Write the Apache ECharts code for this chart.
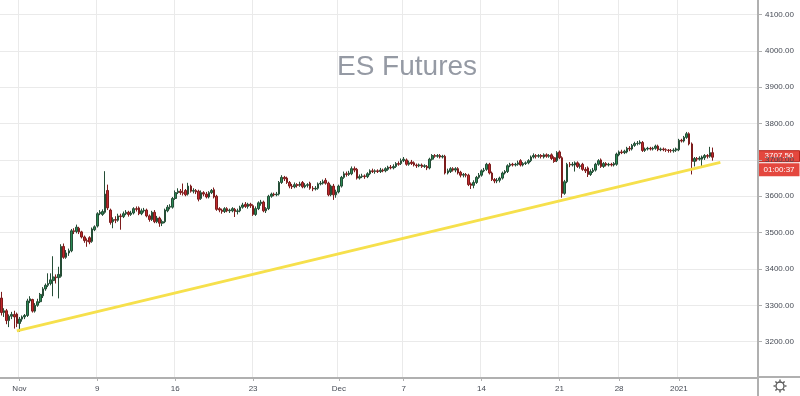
<!DOCTYPE html>
<html><head><meta charset="utf-8">
<script src="https://cdn.jsdelivr.net/npm/echarts@6/dist/echarts.min.js"></script>
<style>html,body{margin:0;padding:0;background:#fff}#c{width:800px;height:396px}</style>
</head><body><div id="c"></div>
<script>
// ---------------- data ----------------
const chartTitle = 'ES Futures';
const barSlots = 292;                       // bar slots on the time scale (last ones are empty future space)
const tickLabels = ['Nov','9','16','23','Dec','7','14','21','28','2021'];
const tickBars   = [7, 37, 67, 97, 130, 155, 185, 215, 238, 261];   // bar index where each date label sits
const priceMin = 3100, priceMax = 4140, priceStep = 100;
// candles: [open, close, low, high]
const candles = [
[3320,3280,3272,3337],[3280,3285,3268,3292],[3285,3258,3248,3290],[3258,3270,3240,3275],[3270,3275,3262,3282],
[3275,3268,3236,3285],[3276,3250,3240,3280],[3250,3262,3227,3268],[3262,3268,3255,3272],[3268,3272,3262,3276],
[3272,3312,3268,3318],[3312,3318,3306,3325],[3316,3284,3280,3318],[3284,3300,3280,3306],[3300,3310,3296,3318],
[3310,3330,3306,3334],[3326,3345,3320,3350],[3345,3355,3340,3360],[3355,3360,3350,3388],[3360,3370,3355,3388],
[3368,3378,3325,3435],[3378,3376,3360,3385],[3376,3385,3319,3406],[3380,3462,3376,3468],[3462,3432,3428,3470],
[3432,3444,3428,3452],[3444,3450,3436,3456],[3450,3505,3446,3510],[3505,3503,3496,3512],[3503,3515,3498,3522],
[3512,3502,3496,3516],[3502,3488,3484,3505],[3488,3478,3472,3492],[3478,3476,3461,3484],[3486,3474,3468,3490],
[3476,3510,3472,3514],[3508,3516,3504,3520],[3518,3552,3514,3556],[3552,3556,3548,3562],[3550,3558,3546,3564],
[3556,3606,3552,3669],[3616,3568,3562,3632],[3562,3528,3522,3566],[3530,3536,3512,3542],[3536,3534,3526,3545],
[3534,3546,3530,3552],[3546,3544,3508,3552],[3544,3552,3540,3558],[3552,3556,3548,3562],[3556,3550,3544,3560],
[3550,3554,3546,3560],[3554,3566,3550,3570],[3566,3564,3558,3572],[3568,3552,3548,3572],[3552,3560,3548,3566],
[3560,3562,3555,3568],[3562,3546,3542,3566],[3546,3536,3530,3550],[3536,3556,3532,3560],[3556,3530,3526,3562],
[3530,3540,3526,3546],[3540,3526,3516,3544],[3526,3530,3518,3536],[3530,3562,3526,3566],[3560,3570,3556,3576],
[3570,3572,3564,3578],[3570,3594,3566,3598],[3594,3610,3590,3616],[3610,3614,3606,3622],[3614,3610,3604,3620],
[3610,3608,3602,3635],[3616,3604,3600,3620],[3606,3628,3602,3637],[3628,3614,3610,3632],[3614,3616,3608,3622],
[3616,3612,3606,3620],[3614,3592,3586,3618],[3594,3610,3590,3616],[3610,3606,3600,3614],[3606,3598,3594,3612],
[3598,3610,3594,3614],[3610,3616,3606,3620],[3618,3598,3594,3624],[3600,3564,3560,3604],[3566,3562,3556,3570],
[3562,3558,3552,3566],[3558,3566,3554,3570],[3566,3560,3556,3570],[3560,3562,3554,3566],[3560,3566,3556,3570],
[3564,3558,3543,3568],[3558,3560,3550,3566],[3560,3570,3556,3574],[3570,3576,3566,3582],[3578,3572,3568,3584],
[3572,3578,3566,3582],[3578,3574,3568,3582],[3574,3550,3546,3578],[3550,3566,3546,3572],[3566,3582,3562,3586],
[3580,3584,3574,3590],[3584,3560,3556,3588],[3560,3566,3554,3570],[3566,3600,3562,3604],[3600,3606,3596,3610],
[3606,3604,3600,3610],[3604,3606,3600,3612],[3606,3638,3602,3642],[3638,3652,3634,3658],[3652,3648,3642,3656],
[3650,3638,3634,3654],[3638,3628,3622,3642],[3628,3626,3620,3634],[3626,3632,3622,3638],[3632,3630,3624,3636],
[3630,3634,3626,3640],[3638,3626,3622,3642],[3626,3630,3622,3636],[3630,3632,3624,3636],[3636,3622,3618,3640],
[3622,3620,3614,3628],[3620,3622,3616,3628],[3622,3634,3618,3638],[3634,3636,3630,3642],[3636,3640,3632,3646],
[3644,3636,3632,3650],[3636,3604,3600,3640],[3604,3628,3600,3632],[3628,3604,3590,3634],[3604,3612,3596,3618],
[3612,3628,3608,3632],[3628,3652,3624,3656],[3652,3662,3648,3668],[3662,3660,3654,3668],[3660,3664,3656,3670],
[3662,3676,3658,3682],[3676,3672,3666,3682],[3674,3650,3646,3678],[3650,3654,3646,3660],[3654,3656,3650,3662],
[3656,3654,3648,3660],[3654,3662,3650,3666],[3662,3670,3658,3674],[3670,3668,3664,3676],[3668,3670,3662,3674],
[3670,3668,3664,3674],[3668,3672,3664,3678],[3672,3670,3666,3676],[3670,3676,3666,3680],[3674,3680,3670,3684],
[3680,3678,3674,3686],[3678,3682,3674,3688],[3682,3690,3678,3694],[3690,3688,3684,3696],[3690,3698,3686,3704],
[3698,3702,3694,3708],[3700,3688,3684,3704],[3688,3692,3684,3698],[3694,3690,3686,3700],[3692,3686,3682,3696],
[3686,3684,3678,3690],[3684,3686,3680,3690],[3686,3682,3678,3690],[3682,3684,3678,3688],[3682,3678,3672,3686],
[3678,3702,3674,3706],[3702,3712,3698,3716],[3712,3710,3706,3716],[3710,3712,3706,3716],[3712,3708,3704,3716],
[3708,3710,3704,3714],[3710,3664,3660,3714],[3664,3670,3660,3676],[3668,3676,3664,3680],[3676,3672,3668,3680],
[3672,3676,3666,3680],[3676,3664,3660,3680],[3666,3658,3652,3670],[3658,3660,3652,3664],[3660,3658,3652,3664],
[3658,3632,3628,3662],[3634,3630,3620,3638],[3630,3638,3622,3644],[3638,3652,3634,3656],[3652,3658,3648,3664],
[3658,3670,3654,3674],[3670,3672,3666,3678],[3674,3688,3670,3692],[3688,3664,3660,3692],[3664,3646,3642,3668],
[3646,3642,3636,3650],[3642,3644,3636,3650],[3644,3650,3638,3654],[3650,3664,3646,3668],[3664,3668,3660,3672],
[3668,3684,3664,3688],[3684,3688,3680,3692],[3688,3686,3682,3692],[3686,3688,3682,3692],[3688,3692,3684,3698],
[3698,3686,3682,3702],[3686,3690,3682,3694],[3690,3692,3686,3696],[3692,3698,3688,3702],[3698,3708,3694,3712],
[3708,3712,3704,3718],[3712,3710,3704,3716],[3710,3712,3706,3716],[3712,3710,3704,3716],[3708,3714,3704,3718],
[3714,3710,3706,3718],[3710,3712,3706,3716],[3714,3704,3700,3718],[3706,3696,3692,3710],[3698,3720,3694,3724],
[3722,3706,3702,3726],[3706,3608,3596,3710],[3608,3640,3604,3645],[3640,3688,3636,3692],[3688,3686,3680,3694],
[3686,3688,3682,3694],[3686,3692,3668,3696],[3692,3682,3678,3696],[3682,3684,3676,3690],[3688,3674,3670,3692],
[3674,3670,3664,3680],[3678,3660,3653,3682],[3660,3668,3656,3674],[3668,3672,3664,3678],[3672,3688,3668,3692],
[3688,3698,3684,3702],[3700,3682,3678,3704],[3682,3690,3678,3694],[3690,3686,3682,3694],[3686,3688,3682,3692],
[3688,3686,3682,3692],[3686,3690,3682,3694],[3688,3716,3684,3720],[3714,3722,3710,3726],[3722,3720,3716,3728],
[3720,3724,3716,3728],[3722,3732,3718,3736],[3732,3730,3724,3738],[3730,3740,3726,3744],[3740,3745,3736,3750],
[3745,3746,3740,3752],[3746,3749,3742,3754],[3748,3726,3722,3752],[3726,3730,3722,3734],[3730,3732,3726,3736],
[3732,3730,3726,3736],[3730,3732,3726,3736],[3732,3738,3728,3742],[3738,3728,3724,3742],[3728,3730,3724,3734],
[3730,3728,3724,3734],[3728,3727,3722,3732],[3727,3726,3720,3730],[3726,3725,3720,3730],[3725,3727,3720,3732],
[3727,3730,3722,3734],[3728,3754,3724,3758],[3754,3752,3748,3758],[3752,3762,3748,3766],[3762,3772,3758,3777],
[3772,3744,3740,3776],[3744,3696,3660,3748],[3696,3704,3682,3708],[3704,3702,3696,3708],[3702,3705,3698,3710],
[3702,3708,3678,3712],[3706,3712,3700,3716],[3712,3710,3704,3716],[3710,3720,3706,3736],[3720,3707.5,3698,3734]
];
// trend line drawn on the chart: [bar index, price]
const trendline = [[6, 3229.7], [277, 3693.3]];
const lastPrice = 3707.50;
const countdown = '01:00:37';

// ---------------- chart ----------------
const chart = echarts.init(document.getElementById('c'), null, {renderer: 'canvas'});
const cats = Array.from({length: barSlots}, (_, i) => String(i));
const isTick = (idx) => tickBars.indexOf(idx) >= 0;
const FONT = '"Liberation Sans", Arial, sans-serif';
const TXT = '#464b55';
const GRID = '#eaeaea';
const AXIS = '#b0b0b0';

chart.setOption({
  animation: false,
  backgroundColor: '#ffffff',
  title: {
    text: chartTitle, left: 402, top: 48, textAlign: 'center',
    textStyle: {fontSize: 28, fontWeight: 'normal', color: '#959aa4', fontFamily: FONT}
  },
  grid: {left: 0, right: 42, top: 0, height: 378, containLabel: false, outerBoundsMode: 'none'},
  xAxis: {
    type: 'category', data: cats, boundaryGap: true,
    axisLine: {show: true, lineStyle: {color: AXIS, width: 2}},
    axisTick: {show: true, alignWithLabel: true, interval: (idx) => isTick(idx), length: 3, lineStyle: {color: AXIS}},
    axisLabel: {show: true, interval: (idx) => isTick(idx), margin: 7, fontSize: 8, color: TXT, fontFamily: FONT,
      formatter: (v, idx) => { const k = tickBars.indexOf(Number(v)); return k >= 0 ? tickLabels[k] : ''; }},
    splitLine: {show: true, interval: (idx) => isTick(idx), lineStyle: {color: GRID, width: 1}}
  },
  yAxis: {
    type: 'value', position: 'right', min: priceMin, max: priceMax, interval: priceStep, scale: true,
    axisLine: {show: true, lineStyle: {color: AXIS, width: 2}},
    axisTick: {show: true, length: 4, lineStyle: {color: AXIS}},
    axisLabel: {show: true, margin: 7, fontSize: 8, color: TXT, fontFamily: FONT, showMinLabel: false, showMaxLabel: false,
      formatter: (v) => (v % 100 === 0 ? v.toFixed(2) : '')},
    splitLine: {show: true, showMinLine: false, showMaxLine: false, lineStyle: {color: GRID, width: 1}}
  },
  series: [
    {
      type: 'candlestick', data: candles, barWidth: '80%',
      itemStyle: {color: '#2a8a55', borderColor: '#254d36', color0: '#c0282d', borderColor0: '#7d1c1c', borderWidth: 1}
    },
    {
      type: 'line', data: trendline, symbol: 'none', z: 5, silent: true,
      lineStyle: {color: '#f6e04c', width: 3}
    }
  ]
});

const py = chart.convertToPixel({yAxisIndex: 0}, lastPrice);
const gear = [];
for (let k = 0; k < 8; k++) {
  const a = k * Math.PI / 4;
  gear.push({type: 'line', shape: {x1: 780 + Math.cos(a) * 4.5, y1: 386 + Math.sin(a) * 4.5, x2: 780 + Math.cos(a) * 6.5, y2: 386 + Math.sin(a) * 6.5},
    style: {stroke: '#555', lineWidth: 1.4}});
}
chart.setOption({
  graphic: [
    {type: 'line', shape: {x1: 758, y1: 377, x2: 800, y2: 377}, style: {stroke: AXIS, lineWidth: 2}},
    {type: 'line', shape: {x1: 758, y1: 377, x2: 758, y2: 396}, style: {stroke: AXIS, lineWidth: 2}},
    {type: 'rect', shape: {x: 758.5, y: py - 6.5, width: 41, height: 11}, style: {fill: '#e4473e', stroke: '#b3261e', lineWidth: 1}},
    {type: 'text', x: 779, y: py - 1, style: {text: lastPrice.toFixed(2), fill: '#ffffff', font: '8px ' + FONT, textAlign: 'center', textVerticalAlign: 'middle'}},
    {type: 'rect', shape: {x: 758.5, y: py + 6, width: 41, height: 13}, style: {fill: '#e4473e'}},
    {type: 'text', x: 779, y: py + 12.5, style: {text: countdown, fill: '#ffffff', font: '8px ' + FONT, textAlign: 'center', textVerticalAlign: 'middle'}},
    {type: 'circle', shape: {cx: 780, cy: 386, r: 4}, style: {fill: 'none', stroke: '#555', lineWidth: 1.3}}
  ].concat(gear)
});
</script>
</body></html>
